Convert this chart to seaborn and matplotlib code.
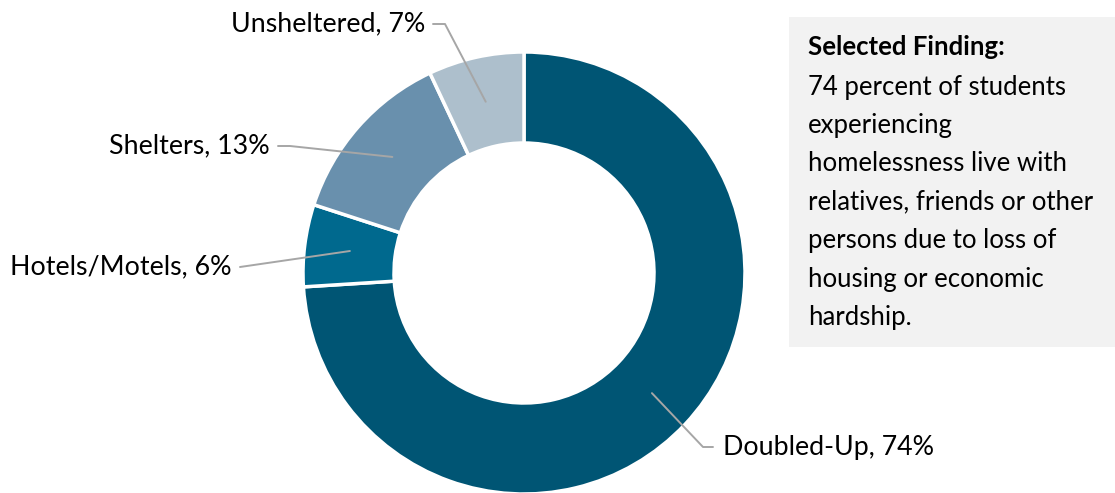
import numpy as np
import matplotlib
matplotlib.use("Agg")
import matplotlib.pyplot as plt
from matplotlib.patches import Rectangle
import seaborn as sns

# ---- data ----
categories = ["Doubled-Up", "Hotels/Motels", "Shelters", "Unsheltered"]
shares = [74, 6, 13, 7]
colors = ["#005574", "#00698E", "#6990AD", "#ADBFCC"]
finding_title = "Selected Finding:"
finding_lines = ["74 percent of students", "experiencing",
                 "homelessness live with", "relatives, friends or other",
                 "persons due to loss of", "housing or economic", "hardship."]

sns.set_theme(style="white")
plt.rcParams['font.family'] = ['Lato', 'DejaVu Sans']

W, H = 1115, 493
fig = plt.figure(figsize=(W / 100, H / 100), dpi=100)
ax = fig.add_axes([0, 0, 1, 1])

cx, cy = 524, 273
R, width = 221, 91

# draw donut (y axis inverted, so counterclock=True is visually clockwise; start at top)
wedges, _ = ax.pie(shares, colors=colors, startangle=-90, counterclock=True,
                   center=(cx, cy), radius=R, frame=True,
                   wedgeprops=dict(width=width, edgecolor="white", linewidth=2.5))
ax.set_xlim(0, W)
ax.set_ylim(H, 0)
ax.set_aspect("equal")
ax.axis("off")

# label layout: (text x, text y, ha)
label_layout = {
    "Doubled-Up": (723, 447, "left"),
    "Hotels/Motels": (232, 267, "right"),
    "Shelters": (270, 146, "right"),
    "Unsheltered": (425, 24, "right"),
}
rmid = R - width / 2
line_col = "#A6A6A6"
fs = 19.3
for w, cat, val in zip(wedges, categories, shares):
    ang = np.deg2rad((w.theta1 + w.theta2) / 2)
    px, py = cx + rmid * np.cos(ang), cy + rmid * np.sin(ang)
    tx, ty, ha = label_layout[cat]
    if ha == "left":
        ex = tx - 10
        kx = ex - 10
    else:
        ex = tx + 8
        kx = ex + 12
    if cat == "Hotels/Motels":
        ax.plot([px, ex], [py, ty], color=line_col, lw=1.4)
    else:
        ax.plot([px, kx, ex], [py, ty, ty], color=line_col, lw=1.4)
    ax.text(tx, ty, f"{cat}, {val}%", ha=ha, va="center", fontsize=fs, color="black")

# finding box
ax.add_patch(Rectangle((789, 17), W - 789, 330, facecolor="#F2F2F2", edgecolor="none"))
ax.text(808, 47, finding_title, ha="left", va="center", fontsize=18.5, fontweight="bold", color="black")
for i, line in enumerate(finding_lines):
    ax.text(808, 87 + i * 38.4, line, ha="left", va="center", fontsize=18.5, color="black")

fig.savefig("out.png", dpi=100)
